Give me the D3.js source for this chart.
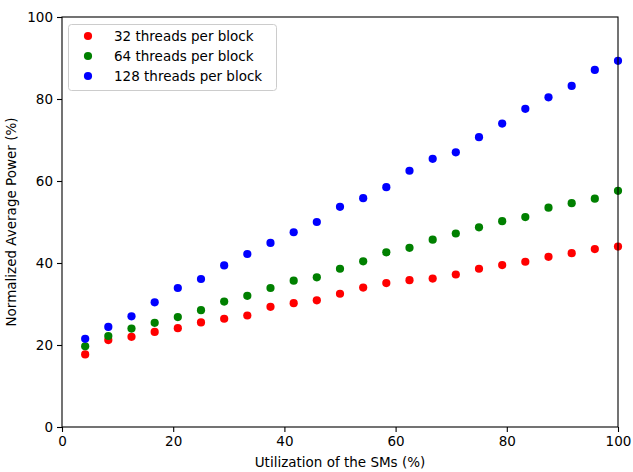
<!DOCTYPE html>
<html><head><meta charset="utf-8">
<script src="https://cdn.jsdelivr.net/npm/d3@7"></script>
<style>body{margin:0;background:#fff}svg{display:block}text{font-family:"DejaVu Sans",sans-serif;fill:#000}</style>
</head><body>
<svg id="c" width="633" height="472"></svg>
<script>
const utilization = [4.17, 8.33, 12.5, 16.67, 20.83, 25, 29.17, 33.33, 37.5, 41.67, 45.83, 50, 54.17, 58.33, 62.5, 66.67, 70.83, 75, 79.17, 83.33, 87.5, 91.67, 95.83, 100];
const threads32 = [17.7, 21.2, 22.0, 23.2, 24.1, 25.5, 26.4, 27.2, 29.3, 30.2, 30.9, 32.5, 34.0, 35.1, 35.8, 36.2, 37.2, 38.6, 39.5, 40.3, 41.5, 42.4, 43.4, 44.0];
const threads64 = [19.7, 22.2, 24.0, 25.4, 26.8, 28.5, 30.6, 32.0, 33.9, 35.7, 36.5, 38.6, 40.4, 42.6, 43.7, 45.7, 47.2, 48.7, 50.2, 51.2, 53.5, 54.6, 55.7, 57.6];
const threads128 = [21.5, 24.4, 27.0, 30.4, 33.9, 36.1, 39.4, 42.2, 44.9, 47.5, 50.0, 53.7, 55.8, 58.5, 62.5, 65.4, 67.0, 70.7, 74.0, 77.6, 80.4, 83.2, 87.1, 89.3];
const seriesNames = ["32 threads per block", "64 threads per block", "128 threads per block"];
const seriesColors = ["#ff0000", "#008000", "#0000ff"];
const xTicks = [0, 20, 40, 60, 80, 100];
const yTicks = [0, 20, 40, 60, 80, 100];
const xLabel = "Utilization of the SMs (%)";
const yLabel = "Normalized Average Power (%)";

const svg = d3.select("#c");
const L = 62, R = 618, T = 17, B = 427;
const x = d3.scaleLinear().domain([0, 100]).range([L, R]);
const y = d3.scaleLinear().domain([0, 100]).range([B, T]);

const series = [threads32, threads64, threads128];
series.forEach((vals, i) => {
  svg.append("g").selectAll("circle").data(vals).join("circle")
    .attr("cx", (d, j) => x(utilization[j]))
    .attr("cy", d => y(d))
    .attr("r", 4.1)
    .attr("fill", seriesColors[i]);
});

const xAxis = svg.append("g").attr("transform", `translate(0,${B})`)
  .call(d3.axisBottom(x).tickValues(xTicks).tickSize(5).tickPadding(4).tickFormat(d3.format("d")));
const yAxis = svg.append("g").attr("transform", `translate(${L},0)`)
  .call(d3.axisLeft(y).tickValues(yTicks).tickSize(5).tickPadding(4).tickFormat(d3.format("d")));
[xAxis, yAxis].forEach(a => {
  a.select(".domain").remove();
  a.selectAll("line").attr("stroke", "#000").attr("stroke-width", 1.1);
  a.selectAll("text").attr("font-size", 13.5).attr("font-family", "DejaVu Sans").attr("fill", "#000");
});

svg.append("rect").attr("x", L).attr("y", T).attr("width", R - L).attr("height", B - T)
  .attr("fill", "none").attr("stroke", "#000").attr("stroke-width", 1.1);

svg.append("text").attr("x", (L + R) / 2).attr("y", 467).attr("text-anchor", "middle")
  .attr("font-size", 13.5).text(xLabel);
svg.append("text").attr("transform", `translate(16,${(T + B) / 2}) rotate(-90)`)
  .attr("text-anchor", "middle").attr("font-size", 13.5).text(yLabel);

const leg = svg.append("g");
leg.append("rect").attr("x", 68.5).attr("y", 24.5).attr("width", 208).attr("height", 66)
  .attr("rx", 3).attr("fill", "#fff").attr("fill-opacity", 0.8).attr("stroke", "#cccccc");
seriesNames.forEach((n, i) => {
  const cy = 36 + i * 20;
  leg.append("circle").attr("cx", 88).attr("cy", cy).attr("r", 4.1).attr("fill", seriesColors[i]);
  leg.append("text").attr("x", 114).attr("y", cy + 5).attr("font-size", 13.5).text(n);
});
</script>
</body></html>
